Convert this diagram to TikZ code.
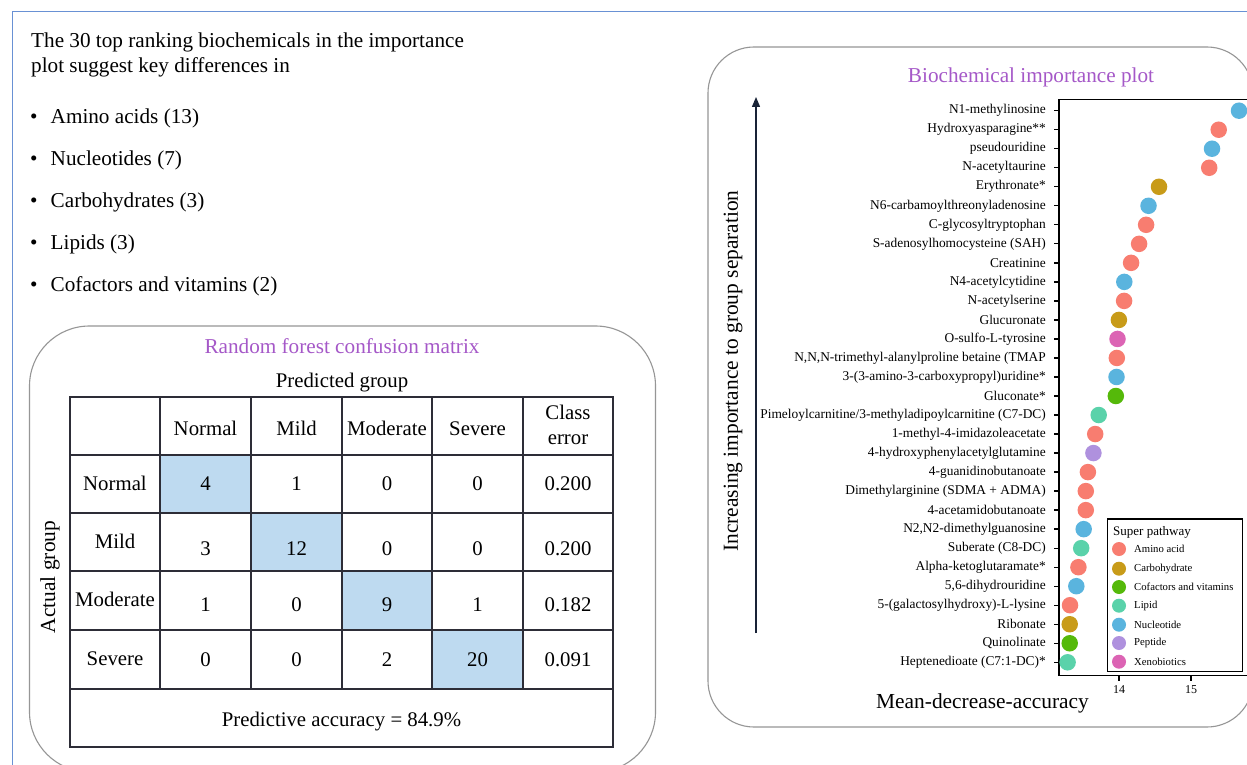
\documentclass[tikz,border=0pt]{standalone}
\usepackage{fontspec}
\setmainfont{Liberation Serif}
\usetikzlibrary{arrows.meta}
\definecolor{frameblue}{RGB}{105,145,212}
\definecolor{titlepurple}{RGB}{165,88,200}
\definecolor{cellblue}{RGB}{190,218,240}
\definecolor{panelgray}{RGB}{150,150,150}
\definecolor{gridgray}{RGB}{45,45,55}
\definecolor{navyarrow}{RGB}{25,35,55}
\definecolor{cAmino}{RGB}{248,125,112}
\definecolor{cCarb}{RGB}{200,155,25}
\definecolor{cCof}{RGB}{85,185,10}
\definecolor{cLipid}{RGB}{90,210,170}
\definecolor{cNuc}{RGB}{90,180,222}
\definecolor{cPep}{RGB}{175,145,222}
\definecolor{cXeno}{RGB}{220,100,180}
\newcommand{\bioRow}[4]{%
  \node[rowlabel] (lab#1) at (1046,{110.7+19.02*(#1-1)}) {#2};
  \coordinate (tk#1) at (1054,{110.7+19.02*(#1-1)});
  \coordinate (tb#1) at (1059,{110.7+19.02*(#1-1)});
  \draw[axisline] (tk#1) -- (tb#1);
  \node[dot,fill=#4] (dot#1) at (#3,{110.7+19.02*(#1-1)}) {};
}
\newcommand{\legRow}[4]{%
  \node[legdot,fill=#3] (ld#1) at (1119,#4) {};
  \node[legtext] (lt#1) at (1134,#4) {#2};
}
\begin{document}
\begin{tikzpicture}[x=1pt,y=-1pt,
  bigtext/.style={font=\fontsize{21.4}{25}\selectfont, inner sep=0pt},
  listtext/.style={font=\fontsize{21.2}{25}\selectfont, inner sep=0pt, anchor=base west},
  titletext/.style={font=\fontsize{21.2}{25}\selectfont, text=titlepurple, inner sep=0pt, anchor=base},
  celltext/.style={font=\fontsize{20.8}{25}\selectfont, inner sep=0pt, anchor=base},
  rowlabel/.style={font=\fontsize{13.4}{15}\selectfont, inner sep=0pt, anchor=east},
  legtext/.style={font=\fontsize{10.7}{13}\selectfont, inner sep=0pt, anchor=west},
  dot/.style={circle, inner sep=0pt, minimum size=16.5pt, draw=none},
  legdot/.style={circle, inner sep=0pt, minimum size=14pt, draw=none},
  panel/.style={draw=panelgray, line width=1.1pt, rounded corners=48pt},
  grid/.style={draw=gridgray, line width=1.4pt},
  axisline/.style={draw=black, line width=1.3pt},
  ticklabel/.style={font=\fontsize{12}{14}\selectfont, inner sep=0pt, anchor=base}
]
\useasboundingbox (0,0) rectangle (1247,765);
\clip (0,0) rectangle (1247,765);
\fill[white] (0,0) rectangle (1247,765);

% outer frame lines
\coordinate (fbl) at (12.5,800);
\coordinate (ftl) at (12.5,11.5);
\coordinate (ftr) at (1300,11.5);
\draw[frameblue, line width=1.1pt] (fbl) -- (ftl) -- (ftr);

% intro text
\node[listtext] (intro1) at (31,47.7) {The 30 top ranking biochemicals in the importance};
\node[listtext] (intro2) at (31,72.7) {plot suggest key differences in};
\foreach \n/\t/\yy in {1/{Amino acids (13)}/124, 2/{Nucleotides (7)}/165.7, 3/{Carbohydrates (3)}/207.3, 4/{Lipids (3)}/249.3, 5/{Cofactors and vitamins (2)}/291.7}{
  \node[listtext] (bul\n) at (30,\yy) {\textbullet};
  \node[listtext] (item\n) at (50.5,\yy) {\t};
}

% ---------- confusion matrix panel ----------
\draw[panel, rounded corners=60pt] (29.5,326) rectangle (655.5,772);
\node[titletext] (cmtitle) at (342,353.3) {Random forest confusion matrix};
\node[celltext] (pred) at (342,387.7) {Predicted group};
\node[bigtext, rotate=90] (actual) at (50,577) {Actual group};

% blue diagonal cells
\fill[cellblue] (160,455) rectangle (251,513);
\fill[cellblue] (251,513) rectangle (342,571);
\fill[cellblue] (342,571) rectangle (432,630);
\fill[cellblue] (432,630) rectangle (523,689);

% grid
\draw[grid] (70,397) rectangle (613,747);
\foreach \yy in {455,513,571,630,689}{\draw[grid] (70,\yy) -- (613,\yy);}
\foreach \xx in {160,251,342,432,523}{\draw[grid] (\xx,397) -- (\xx,689);}

% header
\node[celltext] (hN) at (205.5,435) {Normal};
\node[celltext] (hMi) at (296.5,435) {Mild};
\node[celltext] (hMo) at (387,435) {Moderate};
\node[celltext] (hS) at (477.5,435) {Severe};
\node[celltext] (hC1) at (568,419) {Class};
\node[celltext] (hC2) at (568,444) {error};

% row labels
\node[celltext] (rN) at (115,490) {Normal};
\node[celltext] (rMi) at (115,548.3) {Mild};
\node[celltext] (rMo) at (115,606) {Moderate};
\node[celltext] (rS) at (115,665) {Severe};

% values
\foreach \c/\xx/\v in {1/205.5/4, 2/296.5/1, 3/387/0, 4/477.5/0, 5/568/0.200}{\node[celltext] (va\c) at (\xx,490) {\v};}
\foreach \c/\xx/\v in {1/205.5/3, 2/296.5/12, 3/387/0, 4/477.5/0, 5/568/0.200}{\node[celltext] (vb\c) at (\xx,555) {\v};}
\foreach \c/\xx/\v in {1/205.5/1, 2/296.5/0, 3/387/9, 4/477.5/1, 5/568/0.182}{\node[celltext] (vc\c) at (\xx,611) {\v};}
\foreach \c/\xx/\v in {1/205.5/0, 2/296.5/0, 3/387/2, 4/477.5/20, 5/568/0.091}{\node[celltext] (vd\c) at (\xx,666.7) {\v};}
\node[celltext] (acc) at (341.5,726.7) {Predictive accuracy = 84.9\%};

% ---------- importance plot panel ----------
\draw[panel, rounded corners=46pt] (708,47) rectangle (1253,727);
\node[titletext] (imptitle) at (1031,82.7) {Biochemical importance plot};

% importance arrow
\coordinate (arrB) at (756,633);
\coordinate (arrT) at (756,97);
\draw[navyarrow, line width=1.4pt, -{Triangle[length=10pt,width=8pt]}] (arrB) -- (arrT);
\node[bigtext, rotate=90] (ylab) at (733,371) {Increasing importance to group separation};

% plot box
\draw[axisline] (1059,99.3) rectangle (1320,675.7);

\bioRow{1}{N1-methylinosine}{1239}{cNuc}
\bioRow{2}{Hydroxyasparagine**}{1218.7}{cAmino}
\bioRow{3}{pseudouridine}{1212}{cNuc}
\bioRow{4}{N-acetyltaurine}{1209.2}{cAmino}
\bioRow{5}{Erythronate*}{1159}{cCarb}
\bioRow{6}{N6-carbamoylthreonyladenosine}{1148.5}{cNuc}
\bioRow{7}{C-glycosyltryptophan}{1146.1}{cAmino}
\bioRow{8}{S-adenosylhomocysteine (SAH)}{1139.1}{cAmino}
\bioRow{9}{Creatinine}{1131.1}{cAmino}
\bioRow{10}{N4-acetylcytidine}{1124.3}{cNuc}
\bioRow{11}{N-acetylserine}{1124.1}{cAmino}
\bioRow{12}{Glucuronate}{1118.9}{cCarb}
\bioRow{13}{O-sulfo-L-tyrosine}{1117.5}{cXeno}
\bioRow{14}{N,N,N-trimethyl-alanylproline betaine (TMAP}{1116.8}{cAmino}
\bioRow{15}{3-(3-amino-3-carboxypropyl)uridine*}{1116.5}{cNuc}
\bioRow{16}{Gluconate*}{1115.8}{cCof}
\bioRow{17}{Pimeloylcarnitine/3-methyladipoylcarnitine (C7-DC)}{1098.7}{cLipid}
\bioRow{18}{1-methyl-4-imidazoleacetate}{1095.2}{cAmino}
\bioRow{19}{4-hydroxyphenylacetylglutamine}{1093.4}{cPep}
\bioRow{20}{4-guanidinobutanoate}{1087.9}{cAmino}
\bioRow{21}{Dimethylarginine (SDMA + ADMA)}{1085.8}{cAmino}
\bioRow{22}{4-acetamidobutanoate}{1085.8}{cAmino}
\bioRow{23}{N2,N2-dimethylguanosine}{1083.7}{cNuc}
\bioRow{24}{Suberate (C8-DC)}{1081.2}{cLipid}
\bioRow{25}{Alpha-ketoglutaramate*}{1078.4}{cAmino}
\bioRow{26}{5,6-dihydrouridine}{1076.3}{cNuc}
\bioRow{27}{5-(galactosylhydroxy)-L-lysine}{1070}{cAmino}
\bioRow{28}{Ribonate}{1069.7}{cCarb}
\bioRow{29}{Quinolinate}{1069.7}{cCof}
\bioRow{30}{Heptenedioate (C7:1-DC)*}{1067.6}{cLipid}

% x ticks
\coordinate (xt14a) at (1119,675.7);
\coordinate (xt14b) at (1119,681);
\coordinate (xt15a) at (1191,675.7);
\coordinate (xt15b) at (1191,681);
\draw[axisline] (xt14a) -- (xt14b);
\draw[axisline] (xt15a) -- (xt15b);
\node[ticklabel] (t14) at (1119,693.3) {14};
\node[ticklabel] (t15) at (1191,693.3) {15};
\node[bigtext, anchor=base] (xlab) at (982.5,708.3) {Mean-decrease-accuracy};

% legend
\draw[draw=black, line width=1.2pt, fill=white] (1107.7,519) rectangle (1242.7,671.7);
\node[font=\fontsize{13}{15}\selectfont, inner sep=0pt, anchor=base west] (legtitle) at (1113,535) {Super pathway};
\legRow{1}{Amino acid}{cAmino}{549}
\legRow{2}{Carbohydrate}{cCarb}{568.7}
\legRow{3}{Cofactors and vitamins}{cCof}{587}
\legRow{4}{Lipid}{cLipid}{605.7}
\legRow{5}{Nucleotide}{cNuc}{624.7}
\legRow{6}{Peptide}{cPep}{643}
\legRow{7}{Xenobiotics}{cXeno}{661.7}
\end{tikzpicture}
\end{document}
